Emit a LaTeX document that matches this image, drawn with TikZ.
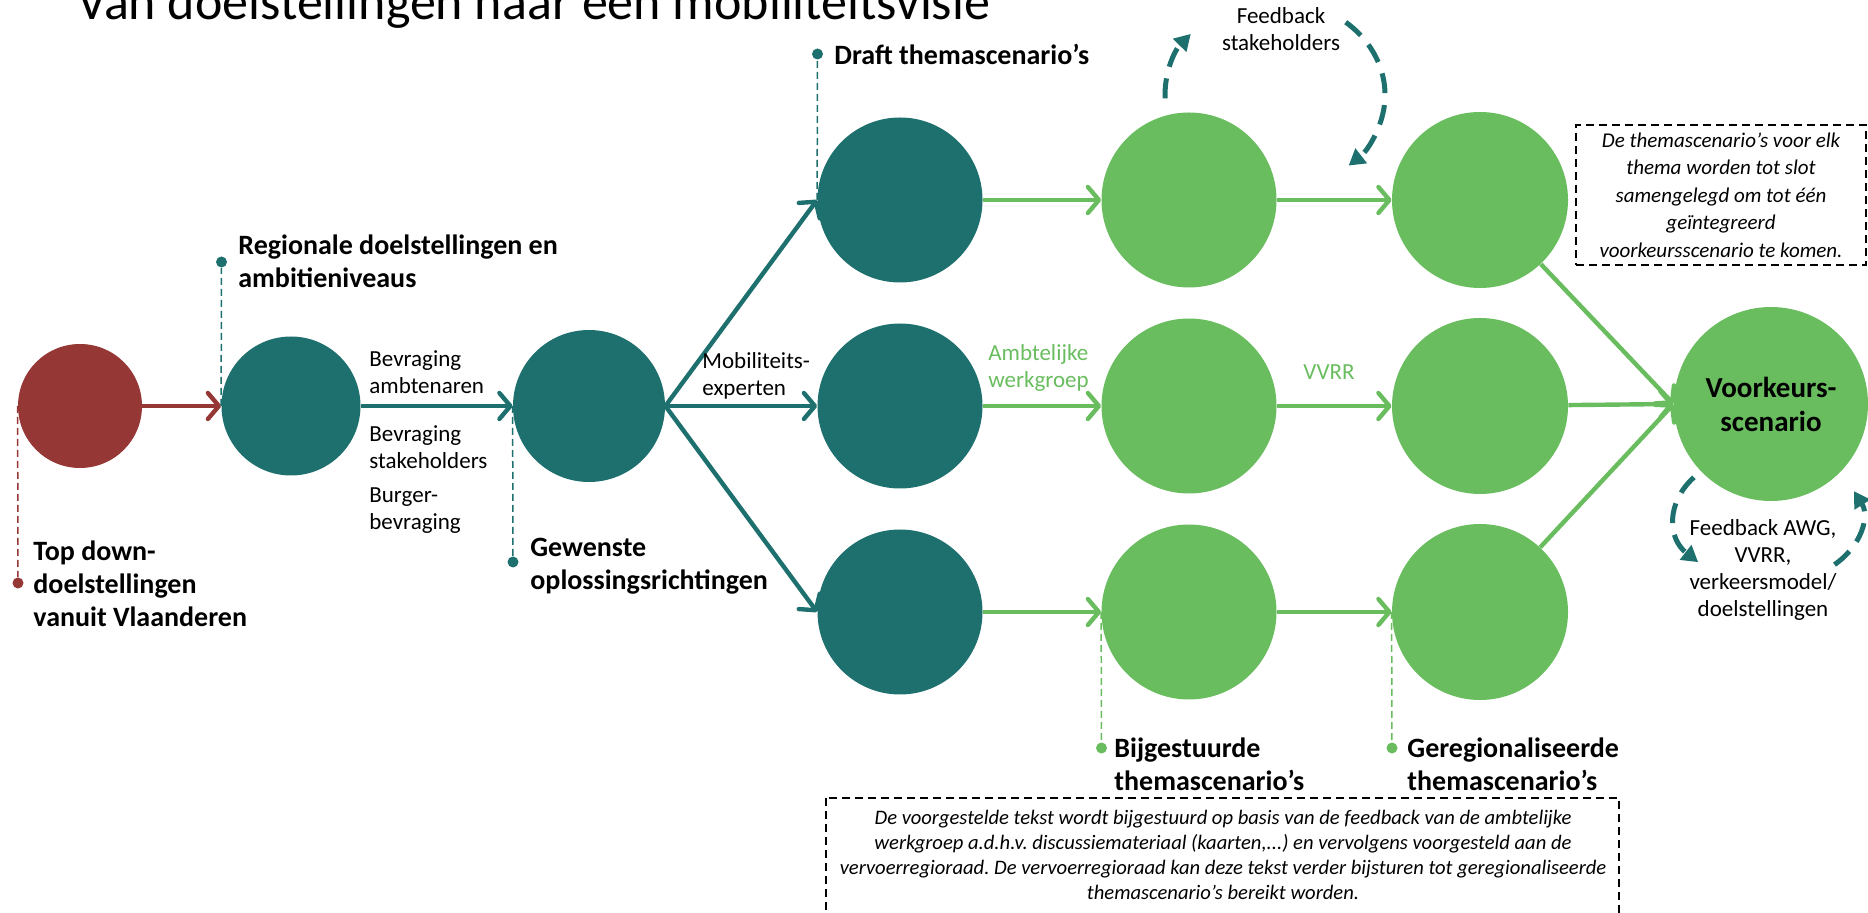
\documentclass[tikz,border=0pt]{standalone}
\usepackage{fontspec}
\setmainfont{Carlito}
\usepackage{tikz}
\usetikzlibrary{arrows.meta,calc}
\frenchspacing

\definecolor{vvred}{HTML}{953735}
\definecolor{vvteal}{HTML}{1E706E}
\definecolor{vvgreen}{HTML}{69BD5F}

\tikzset{
  stage/.style={circle,inner sep=0pt,minimum size=#1},
  flow/.style={line width=2.2pt,-{Straight Barb[length=5.5pt,width=13pt,round]}},
  pinline/.style={line width=0.75pt,dash pattern=on 3.5pt off 2pt},
  pindot/.style={circle,inner sep=0pt,minimum size=5.5pt},
  milestone/.style={font=\fontsize{14}{16.5}\selectfont\bfseries,align=left,inner sep=0pt},
  edgetext/.style={font=\fontsize{11.5}{13.5}\selectfont,align=left,inner sep=0pt},
  loopline/.style={vvteal,line width=2.5pt,dash pattern=on 10pt off 6pt,-{Triangle[length=8pt,width=9pt]}},
  notebox/.style={line width=0.75pt,dash pattern=on 4pt off 2.5pt},
}

\begin{document}
\begin{tikzpicture}[x=0.5pt,y=0.5pt,yscale=-1,xscale=1]
\useasboundingbox (0,0) rectangle (1868,913);
% Text Node
\node[anchor=base west,inner sep=0pt,font=\fontsize{26}{30}\selectfont] (title) at (77,20) {Van doelstellingen naar een mobiliteitsvisie};
%Shape: Circle
\node[stage=62pt,fill=vvred] (topdown) at (80,406) {};
\node[stage=69.5pt,fill=vvteal] (regio) at (291,406) {};
\node[stage=76pt,fill=vvteal] (gewenst) at (589,406) {};
%Shape: Circle
\node[stage=82.5pt,fill=vvteal] (drafta) at (900,200) {};
\node[stage=82.5pt,fill=vvteal] (draftb) at (900,406) {};
\node[stage=82.5pt,fill=vvteal] (draftc) at (900,612) {};
%Shape: Circle
\node[stage=87.5pt,fill=vvgreen] (bijga) at (1189,200) {};
\node[stage=87.5pt,fill=vvgreen] (bijgb) at (1189,406) {};
\node[stage=87.5pt,fill=vvgreen] (bijgc) at (1189,612) {};
%Shape: Circle
\node[stage=88pt,fill=vvgreen] (rega) at (1480,200) {};
\node[stage=88pt,fill=vvgreen] (regb) at (1480,406) {};
\node[stage=88pt,fill=vvgreen] (regc) at (1480,612) {};
%Shape: Circle
\node[stage=97pt,fill=vvgreen,align=center,font=\fontsize{14.5}{17}\selectfont\bfseries] (voork) at (1771,404) {Voorkeurs-\\scenario};

%Straight Lines
\draw[flow,vvred] (topdown) -- (regio);
\draw[flow,vvteal] (regio) -- (gewenst);
\draw[flow,vvteal] (gewenst.east) -- (drafta.west);
\draw[flow,vvteal] (gewenst.east) -- (draftb.west);
\draw[flow,vvteal] (gewenst.east) -- (draftc.west);
%Straight Lines
\draw[flow,vvgreen] (drafta) -- (bijga);
\draw[flow,vvgreen] (draftb) -- (bijgb);
\draw[flow,vvgreen] (draftc) -- (bijgc);
\draw[flow,vvgreen] (bijga) -- (rega);
\draw[flow,vvgreen] (bijgb) -- (regb);
\draw[flow,vvgreen] (bijgc) -- (regc);
\draw[flow,vvgreen] (rega) -- (voork.west);
\draw[flow,vvgreen] (regb) -- (voork.west);
\draw[flow,vvgreen] (regc) -- (voork.west);

%Pins with labels
\node[pindot,fill=vvred] (tddot) at (18,583) {};
\draw[pinline,vvred] (topdown.west) -- (tddot);
\node[milestone,anchor=west] (tdlabel) at (33,584) {Top down-\\doelstellingen\\vanuit Vlaanderen};
\node[pindot,fill=vvteal] (regdot) at (221.5,262) {};
\draw[pinline,vvteal] (regio.west) -- (regdot);
\node[milestone,anchor=west] (reglabel) at (238,261) {Regionale doelstellingen en\\ambitieniveaus};
\node[pindot,fill=vvteal] (gewdot) at (513,562) {};
\draw[pinline,vvteal] (gewenst.west) -- (gewdot);
\node[milestone,anchor=west] (gewlabel) at (530,566) {Gewenste\\oplossingsrichtingen};
\node[pindot,fill=vvteal] (draftdot) at (817.5,54) {};
\draw[pinline,vvteal] (drafta.west) -- (draftdot);
\node[milestone,anchor=west] (draftlabel) at (834,54) {Draft themascenario’s};
\node[pindot,fill=vvgreen] (bijgdot) at (1101.5,748) {};
\draw[pinline,vvgreen] (bijgc.west) -- (bijgdot);
\node[milestone,anchor=west] (bijglabel) at (1114,764) {Bijgestuurde\\themascenario’s};
\node[pindot,fill=vvgreen] (regcdot) at (1392,748) {};
\draw[pinline,vvgreen] (regc.west) -- (regcdot);
\node[milestone,anchor=west] (regclabel) at (1407,764) {Geregionaliseerde\\themascenario’s};

% Text Node
\node[edgetext,anchor=west] (ambt) at (369,372) {Bevraging\\ambtenaren};
\node[edgetext,anchor=west] (stakeh) at (369,447) {Bevraging\\stakeholders};
\node[edgetext,anchor=west] (burger) at (369,511) {Burger-\\bevraging};
\node[edgetext,anchor=west] (mobexp) at (702,376) {Mobiliteits-\\experten};
\node[edgetext,anchor=west,text=vvgreen] (awg) at (988,368) {Ambtelijke\\werkgroep};
\node[edgetext,anchor=west,text=vvgreen] (vvrr) at (1303,372) {VVRR};

%Feedback loops
\node[edgetext,align=center] (fbstake) at (1281,29) {Feedback\\stakeholders};
\coordinate (stakeloop) at (1275,95);
\draw[loopline] ($(stakeloop)+(178:110 and 95)$) arc[start angle=178,end angle=220,x radius=110,y radius=95];
\draw[loopline] ($(stakeloop)+(-50:110 and 95)$) arc[start angle=-50,end angle=48,x radius=110,y radius=95];
\node[edgetext,align=center] (fbawg) at (1763,570) {Feedback AWG,\\VVRR,\\verkeersmodel/\\doelstellingen};
\coordinate (awgloop) at (1768,518);
\draw[loopline] ($(awgloop)+(-142:94 and 66)$) arc[start angle=-142,end angle=-222,x radius=94,y radius=66];
\draw[loopline] ($(awgloop)+(45:94 and 66)$) arc[start angle=45,end angle=-24,x radius=94,y radius=66];

%Notes
\node[notebox,draw,align=center,minimum width=145pt,minimum height=70pt,font=\fontsize{10.5}{13.75}\selectfont\itshape] (notetop) at (1721,195) {De themascenario’s voor elk\\thema worden tot slot\\samengelegd om tot één\\geïntegreerd\\voorkeursscenario te komen.};
\node[align=center,inner sep=0pt,font=\fontsize{10.3}{12.5}\selectfont\itshape] (notebot) at (1223,855) {De voorgestelde tekst wordt bijgestuurd op basis van de feedback van de ambtelijke\\werkgroep a.d.h.v. discussiemateriaal (kaarten,...) en vervolgens voorgesteld aan de\\vervoerregioraad. De vervoerregioraad kan deze tekst verder bijsturen tot geregionaliseerde\\themascenario’s bereikt worden.};
\draw[notebox] (826,798) rectangle (1619,940);
\end{tikzpicture}
\end{document}
